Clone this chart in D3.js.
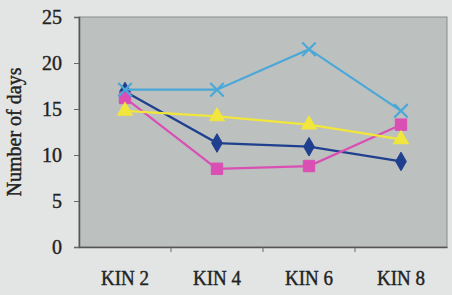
<!DOCTYPE html>
<html lang="en">
<head>
    <meta charset="UTF-8">
    <style>
        body { margin: 0; background: #e3e5e4; }
        #chart { width: 452px; height: 295px; }
        text { font-family: "Liberation Serif", "DejaVu Serif", serif; fill: #222; stroke: #222; stroke-width: 0.4px; }
    </style>
    <script src="https://d3js.org/d3.v7.min.js"></script>
</head>
<body>
    <div id="chart"></div>
    <script>
        // data
        var categories = ["KIN 2", "KIN 4", "KIN 6", "KIN 8"];
        var seriesA = [16.9, 11.3, 10.9, 9.3];   // dark blue, diamond
        var seriesB = [16.2, 8.5, 8.8, 13.3];    // magenta, square
        var seriesC = [14.8, 14.2, 13.3, 11.7];  // yellow, triangle
        var seriesD = [17.1, 17.1, 21.5, 14.8];  // cyan, cross
        var yTicks = [0, 5, 10, 15, 20, 25];

        var series = [
            { values: seriesA, color: "#1f3f8f", shape: "diamond" },
            { values: seriesB, color: "#d94fb4", shape: "square" },
            { values: seriesC, color: "#f0e63c", shape: "triangle" },
            { values: seriesD, color: "#4aa8d8", shape: "cross" }
        ];

        var margin = { top: 17, right: 5, bottom: 48, left: 79 };
        var width = 452 - margin.left - margin.right;
        var height = 295 - margin.top - margin.bottom;

        var svg = d3.select("#chart").append("svg")
            .attr("width", 452)
            .attr("height", 295);

        var g = svg.append("g")
            .attr("transform", "translate(" + margin.left + "," + margin.top + ")");

        var x = d3.scaleBand().domain(categories).range([0, width]);
        var y = d3.scaleLinear().domain([0, 25]).range([height, 0]);

        // plot area
        g.append("rect")
            .attr("width", width)
            .attr("height", height)
            .attr("fill", "#bcc0bf")
            .attr("stroke", "#8a8e8d")
            .attr("stroke-width", 1);

        // y axis
        var yAxis = g.append("g")
            .call(d3.axisLeft(y).tickValues(yTicks).tickSize(5).tickPadding(12));
        yAxis.select(".domain").attr("stroke", "#555").attr("stroke-width", 1.5);
        yAxis.selectAll("line").attr("stroke", "#666");
        yAxis.selectAll("text").style("font-size", "20px").attr("fill", "#1e1e1e");

        // x axis with ticks between categories
        var xAxis = g.append("g")
            .attr("transform", "translate(0," + height + ")")
            .call(d3.axisBottom(x).tickSize(0).tickPadding(24));
        xAxis.select(".domain").attr("stroke", "#555").attr("stroke-width", 1.5);
        xAxis.selectAll("text").style("font-size", "20px").attr("fill", "#1e1e1e")
            .attr("textLength", 48).attr("lengthAdjust", "spacingAndGlyphs");
        xAxis.selectAll(".between")
            .data(categories.slice(1))
            .enter().append("line")
            .attr("class", "between")
            .attr("x1", d => x(d)).attr("x2", d => x(d))
            .attr("y1", 0).attr("y2", 5)
            .attr("stroke", "#666");

        // y label
        svg.append("text")
            .attr("transform", "translate(21," + (margin.top + height / 2) + ") rotate(-90)")
            .attr("text-anchor", "middle")
            .style("font-size", "20px")
            .attr("fill", "#1e1e1e")
            .text("Number of days");

        var line = d3.line()
            .x((d, i) => x(categories[i]) + x.bandwidth() / 2)
            .y(d => y(d));

        var symbols = {
            diamond: d3.symbol().type(d3.symbolDiamond).size(100),
            square: d3.symbol().type(d3.symbolSquare).size(130),
            triangle: d3.symbol().type(d3.symbolTriangle).size(100),
            cross: d3.symbol().type(d3.symbolX).size(120)
        };

        series.forEach(function(s) {
            g.append("path")
                .datum(s.values)
                .attr("fill", "none")
                .attr("stroke", s.color)
                .attr("stroke-width", 2.2)
                .attr("d", line);

            g.selectAll(null)
                .data(s.values)
                .enter().append("path")
                .attr("transform", (d, i) => "translate(" + (x(categories[i]) + x.bandwidth() / 2) + "," + y(d) + ")")
                .attr("d", symbols[s.shape])
                .attr("fill", s.shape === "cross" ? "none" : s.color)
                .attr("stroke", s.color)
                .attr("stroke-width", s.shape === "cross" ? 2.2 : 1);
        });
    </script>
</body>
</html>
